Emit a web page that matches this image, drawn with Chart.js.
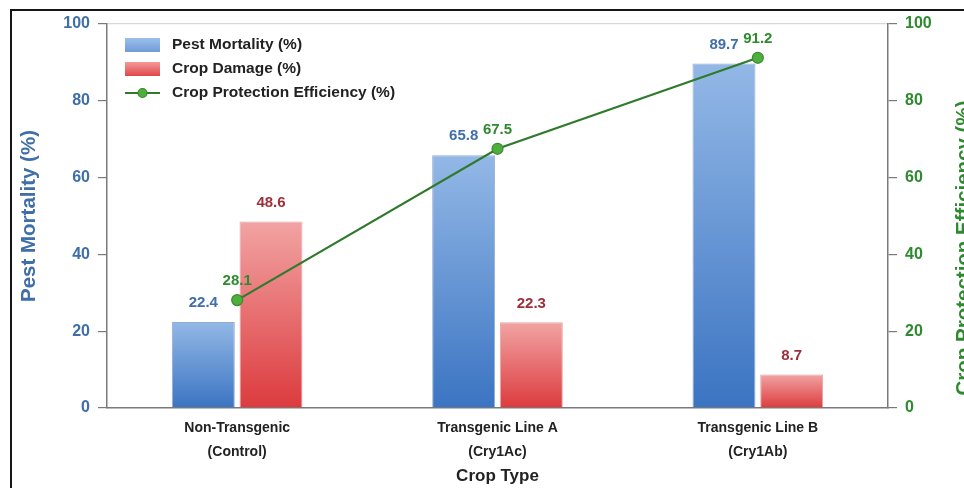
<!DOCTYPE html>
<html>
<head>
<meta charset="utf-8">
<title>Pest Mortality vs Crop Damage</title>
<script src="https://cdn.jsdelivr.net/npm/chart.js@4.4.1/dist/chart.umd.min.js"></script>
<style>
    html, body { margin: 0; padding: 0; background: #fff; }
    #wrap { position: relative; width: 964px; height: 488px; overflow: hidden; }
    #frame {
        position: absolute; left: 10px; top: 9px; width: 1000px; height: 520px;
        border-top: 2px solid #151515; border-left: 2px solid #151515;
        pointer-events: none;
    }
</style>
</head>
<body>
<div id="wrap">
    <canvas id="cropChart" width="964" height="488"></canvas>
    <div id="frame"></div>
</div>
<script>
// Data
const cropTypes = [
    ['Non-Transgenic', '(Control)'],
    ['Transgenic Line A', '(Cry1Ac)'],
    ['Transgenic Line B', '(Cry1Ab)']
];
const pestMortality = [22.4, 65.8, 89.7];
const cropDamage = [48.6, 22.3, 8.7];
const protectionEfficiency = [28.1, 67.5, 91.2];
const axisTicks = [0, 20, 40, 60, 80, 100];

const FONT = "'Liberation Sans', Arial, Helvetica, sans-serif";
const BLUE_TEXT = '#3f6ea8';
const RED_TEXT = '#9e2f38';
const GREEN_TEXT = '#2e8a2e';
const AXIS_GREY = '#7a7a7a';

Chart.defaults.font.family = FONT;

/**
 * Vertical gradient for one bar, light at the top and darker at the base
 */
function barGradient(ctx, topColor, bottomColor) {
    const chart = ctx.chart;
    if (!chart.chartArea || ctx.type !== 'data') return bottomColor;
    const yScale = chart.scales.y;
    const yTop = yScale.getPixelForValue(ctx.raw);
    const yBottom = yScale.getPixelForValue(0);
    const g = chart.ctx.createLinearGradient(0, yTop, 0, yBottom);
    g.addColorStop(0, topColor);
    g.addColorStop(1, bottomColor);
    return g;
}

/**
 * Value labels above the bars and the line points
 */
const valueLabels = {
    id: 'valueLabels',
    afterDatasetsDraw(chart) {
        const ctx = chart.ctx;
        ctx.save();
        ctx.font = 'bold 15px ' + FONT;
        ctx.textAlign = 'center';
        ctx.textBaseline = 'middle';
        chart.data.datasets.forEach((ds, i) => {
            const meta = chart.getDatasetMeta(i);
            ctx.fillStyle = ds.labelColor;
            meta.data.forEach((el, j) => {
                ctx.fillText(ds.data[j].toFixed(1), el.x, el.y - 19);
            });
        });
        ctx.restore();
    }
};

/**
 * Legend drawn inside the top-left of the plot area
 */
const innerLegend = {
    id: 'innerLegend',
    afterDraw(chart) {
        const ctx = chart.ctx;
        const x0 = chart.chartArea.left + 18;
        const rows = [45, 69, 93];
        ctx.save();
        ctx.font = 'bold 15.5px ' + FONT;
        ctx.textBaseline = 'middle';
        ctx.textAlign = 'left';
        chart.data.datasets.forEach((ds, i) => {
            const y = rows[i];
            if (ds.type === 'line') {
                ctx.strokeStyle = ds.borderColor;
                ctx.lineWidth = 2;
                ctx.beginPath();
                ctx.moveTo(x0, y);
                ctx.lineTo(x0 + 35, y);
                ctx.stroke();
                ctx.fillStyle = ds.pointBackgroundColor;
                ctx.strokeStyle = ds.pointBorderColor;
                ctx.lineWidth = 1.2;
                ctx.beginPath();
                ctx.arc(x0 + 17.5, y, 4.5, 0, Math.PI * 2);
                ctx.fill();
                ctx.stroke();
            } else {
                const g = ctx.createLinearGradient(0, y - 7, 0, y + 7);
                g.addColorStop(0, ds.legendColors[0]);
                g.addColorStop(1, ds.legendColors[1]);
                ctx.fillStyle = g;
                ctx.fillRect(x0, y - 7, 35, 14);
            }
            ctx.fillStyle = '#222';
            ctx.fillText(ds.label, x0 + 47, y);
        });
        ctx.restore();
    }
};

/**
 * Axis titles (the right one reads bottom-to-top like the left one)
 */
const axisTitles = {
    id: 'axisTitles',
    afterDraw(chart) {
        const ctx = chart.ctx;
        const area = chart.chartArea;
        const midY = (area.top + area.bottom) / 2;
        ctx.save();
        ctx.textAlign = 'center';
        ctx.textBaseline = 'middle';

        ctx.font = 'bold 20.5px ' + FONT;
        ctx.fillStyle = BLUE_TEXT;
        ctx.save();
        ctx.translate(29, midY);
        ctx.rotate(-Math.PI / 2);
        ctx.fillText('Pest Mortality (%)', 0, 0);
        ctx.restore();

        ctx.fillStyle = GREEN_TEXT;
        ctx.save();
        ctx.translate(964, midY + 32);
        ctx.rotate(-Math.PI / 2);
        ctx.fillText('Crop Protection Efficiency (%)', 0, 0);
        ctx.restore();

        ctx.font = 'bold 17px ' + FONT;
        ctx.fillStyle = '#222';
        ctx.fillText('Crop Type', (area.left + area.right) / 2, 476);
        ctx.restore();
    }
};

const canvas = document.getElementById('cropChart');
new Chart(canvas, {
    data: {
        labels: cropTypes,
        datasets: [
            {
                type: 'bar',
                label: 'Pest Mortality (%)',
                data: pestMortality,
                yAxisID: 'y',
                order: 1,
                backgroundColor: ctx => barGradient(ctx, '#93b8e6', '#3b74c2'),
                borderColor: 'rgba(60, 100, 170, 0.55)',
                borderWidth: 1,
                legendColors: ['#9cc0ea', '#6f9cd6'],
                labelColor: BLUE_TEXT
            },
            {
                type: 'bar',
                label: 'Crop Damage (%)',
                data: cropDamage,
                yAxisID: 'y',
                order: 1,
                backgroundColor: ctx => barGradient(ctx, '#f2a3a3', '#dc3b3e'),
                borderColor: 'rgba(190, 60, 60, 0.45)',
                borderWidth: 1,
                legendColors: ['#f39a9a', '#e0474a'],
                labelColor: RED_TEXT
            },
            {
                type: 'line',
                label: 'Crop Protection Efficiency (%)',
                data: protectionEfficiency,
                yAxisID: 'y1',
                order: 0,
                borderColor: '#2f7a2c',
                borderWidth: 2.2,
                pointRadius: 5.5,
                pointBackgroundColor: '#4fae3d',
                pointBorderColor: '#3a8a2f',
                pointBorderWidth: 1.2,
                tension: 0,
                labelColor: GREEN_TEXT
            }
        ]
    },
    options: {
        responsive: false,
        animation: false,
        devicePixelRatio: 1,
        layout: { padding: { top: 24, left: 0, right: 0, bottom: 0 } },
        datasets: {
            bar: { categoryPercentage: 0.52, barPercentage: 0.93 }
        },
        plugins: {
            legend: { display: false },
            tooltip: { enabled: false }
        },
        scales: {
            x: {
                offset: true,
                grid: { display: false },
                border: { display: true, color: AXIS_GREY, width: 1.5 },
                ticks: {
                    color: '#222',
                    font: { size: 14, weight: 'bold', lineHeight: 1.7 },
                    padding: 0,
                    maxRotation: 0
                },
                afterFit: scale => { scale.height = 80; }
            },
            y: {
                position: 'left',
                min: 0,
                max: 100,
                afterBuildTicks: scale => { scale.ticks = axisTicks.map(v => ({ value: v })); },
                grid: {
                    color: ctx => (ctx.tick && ctx.tick.value === 100 ? '#d8d8d8' : 'rgba(0,0,0,0)'),
                    tickColor: AXIS_GREY,
                    tickLength: 9,
                    lineWidth: 1.2
                },
                border: { color: AXIS_GREY, width: 1.5 },
                ticks: {
                    color: BLUE_TEXT,
                    font: { size: 16, weight: 'bold' },
                    padding: 8
                },
                afterFit: scale => { scale.width = 107; }
            },
            y1: {
                position: 'right',
                min: 0,
                max: 100,
                afterBuildTicks: scale => { scale.ticks = axisTicks.map(v => ({ value: v })); },
                grid: {
                    drawOnChartArea: false,
                    tickColor: AXIS_GREY,
                    tickLength: 9,
                    lineWidth: 1.2
                },
                border: { color: AXIS_GREY, width: 1.5 },
                ticks: {
                    color: GREEN_TEXT,
                    font: { size: 16, weight: 'bold' },
                    padding: 8
                },
                afterFit: scale => { scale.width = 76; }
            }
        }
    },
    plugins: [valueLabels, innerLegend, axisTitles]
});
</script>
</body>
</html>
